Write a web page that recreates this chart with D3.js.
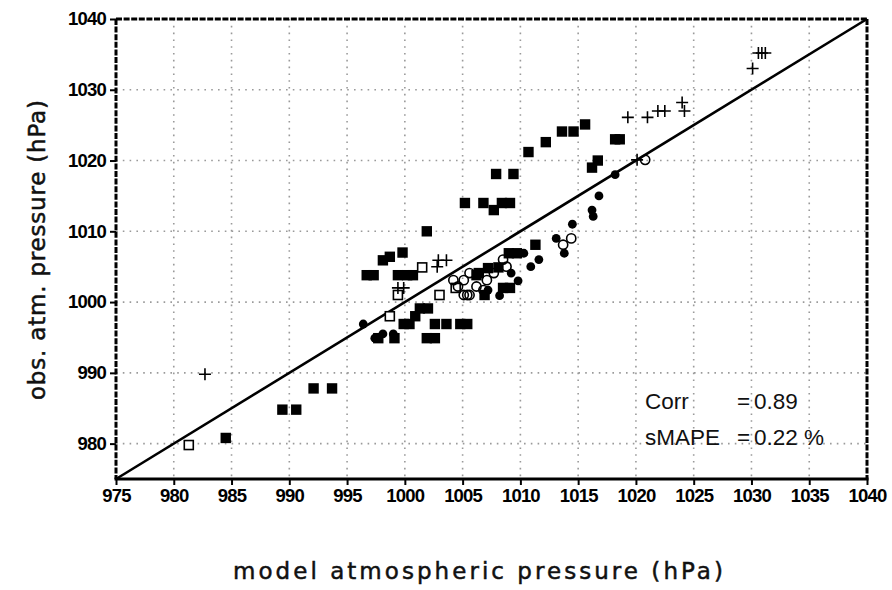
<!DOCTYPE html>
<html>
<head>
<meta charset="utf-8">
<script src="https://cdn.jsdelivr.net/npm/d3@7"></script>
<style>
  body { margin: 0; background: #fff; }
  svg { display: block; }
</style>
</head>
<body>
<div id="chart"></div>
<script>
// tick values
var xTicks = [975, 980, 985, 990, 995, 1000, 1005, 1010, 1015, 1020, 1025, 1030, 1035, 1040];
var yTicks = [980, 990, 1000, 1010, 1020, 1030, 1040];

// filled squares: model, obs
var sqModel = [984.5, 989.4, 990.6, 992.1, 993.7, 996.7, 997.3, 998.1, 998.7, 999.8, 999.4, 1000.2, 1000.7,
  1001.9, 1001.3, 1002.0, 1000.9, 999.9, 1000.4, 1002.6, 1003.6, 1004.8, 1005.4, 1001.9, 1002.6, 997.7, 999.1,
  1005.2, 1006.8, 1007.7, 1008.4, 1009.1, 1007.9, 1009.4, 1006.2, 1007.2, 1008.1, 1009.0, 1009.7, 1011.3,
  1008.5, 1009.1, 1006.9, 1006.4, 1013.6, 1014.6, 1015.6, 1018.2, 1018.6, 1016.7, 1016.2, 1012.2, 1010.7];
var sqObs = [980.8, 984.8, 984.8, 987.8, 987.8, 1003.8, 1003.8, 1005.9, 1006.4, 1007.0, 1003.8, 1003.8, 1003.8,
  1010.0, 999.1, 999.1, 998.0, 996.9, 996.9, 996.9, 996.9, 996.9, 996.9, 994.9, 994.9, 994.9, 994.9,
  1014.0, 1014.0, 1013.0, 1014.0, 1014.0, 1018.1, 1018.1, 1003.8, 1004.8, 1004.9, 1006.9, 1006.9, 1008.1,
  1002.0, 1002.0, 1001.0, 1004.1, 1024.1, 1024.1, 1025.1, 1023.0, 1023.0, 1020.0, 1019.0, 1022.6, 1021.2];

// filled circles
var ciModel = [996.4, 998.1, 999.0, 997.4, 1010.3, 1010.9, 1011.6, 1009.8, 1009.2, 1008.2, 1007.2,
  1013.1, 1013.8, 1014.5, 1016.2, 1016.3, 1016.8, 1018.2];
var ciObs = [996.9, 995.5, 995.5, 994.9, 1006.9, 1005.0, 1006.0, 1003.0, 1004.1, 1000.9, 1001.7,
  1009.0, 1006.9, 1011.0, 1013.0, 1012.1, 1015.0, 1018.0];

// open squares
var osModel = [981.3, 1001.5, 999.4, 1003.0, 998.7, 1004.4];
var osObs = [979.8, 1004.9, 1001.0, 1001.0, 998.0, 1002.0];

// open circles
var ocModel = [1004.2, 1004.6, 1005.1, 1005.6, 1005.1, 1005.4, 1005.6, 1006.2, 1006.8, 1007.1, 1007.7,
  1008.5, 1008.8, 1013.7, 1014.4, 1020.8];
var ocObs = [1003.1, 1002.2, 1003.1, 1004.1, 1001.0, 1001.0, 1001.0, 1002.2, 1001.7, 1003.1, 1004.1,
  1006.0, 1005.0, 1008.1, 1009.0, 1020.1];

// plus signs
var plModel = [982.7, 1002.9, 1003.6, 1002.8, 999.4, 999.9, 1019.3, 1021.0, 1021.9, 1022.5, 1024.0, 1024.2,
  1020.1, 1030.1, 1030.6, 1030.9, 1031.2];
var plObs = [989.8, 1005.9, 1005.9, 1005.0, 1002.0, 1002.0, 1026.1, 1026.1, 1027.0, 1027.0, 1028.2, 1027.0,
  1020.1, 1033.0, 1035.2, 1035.2, 1035.2];

var statLabels = ["Corr", "sMAPE"];
var statValues = ["0.89", "0.22 %"];

var width = 892, height = 590;
var pLeft = 116, pRight = 867, pTop = 19, pBottom = 479;

var svg = d3.select("#chart").append("svg")
  .attr("width", width)
  .attr("height", height);

var x = d3.scaleLinear().domain([975, 1040]).range([pLeft, pRight]);
var y = d3.scaleLinear().domain([975, 1040]).range([pBottom, pTop]);

function zip(a, b) { return a.map(function(v, i) { return [v, b[i]]; }); }

// grid
var grid = svg.append("g").attr("class", "grid")
  .attr("stroke", "#9a9a9a").attr("stroke-width", 1.6).attr("stroke-dasharray", "1.6,5.2");
grid.selectAll("line.v").data(xTicks.slice(1, -1)).enter().append("line")
  .attr("x1", function(d) { return x(d); }).attr("x2", function(d) { return x(d); })
  .attr("y1", pTop).attr("y2", pBottom);
grid.selectAll("line.h").data(yTicks.slice(0, -1)).enter().append("line")
  .attr("y1", function(d) { return y(d); }).attr("y2", function(d) { return y(d); })
  .attr("x1", pLeft).attr("x2", pRight);

// stats text
var stats = svg.append("g")
  .attr("font-family", "Liberation Sans, Arial, sans-serif")
  .attr("font-size", 22.5).attr("fill", "#111");
stats.selectAll("text.lab").data(statLabels).enter().append("text")
  .attr("x", 645).attr("y", function(d, i) { return 409 + i * 36; })
  .text(function(d) { return d; });
stats.selectAll("text.eq").data(statLabels).enter().append("text")
  .attr("x", 737).attr("y", function(d, i) { return 409 + i * 36; })
  .text("=");
stats.selectAll("text.val").data(statValues).enter().append("text")
  .attr("x", 754).attr("y", function(d, i) { return 409 + i * 36; })
  .text(function(d) { return d; });

// 1:1 line
svg.append("line")
  .attr("x1", x(975)).attr("y1", y(975))
  .attr("x2", x(1040)).attr("y2", y(1040))
  .attr("stroke", "#000").attr("stroke-width", 2.6);

// markers
var marks = svg.append("g").attr("class", "marks");

marks.selectAll("rect.fs").data(zip(sqModel, sqObs)).enter().append("rect")
  .attr("x", function(d) { return x(d[0]) - 5.2; })
  .attr("y", function(d) { return y(d[1]) - 5.2; })
  .attr("width", 10.4).attr("height", 10.4)
  .attr("fill", "#000");

marks.selectAll("circle.fc").data(zip(ciModel, ciObs)).enter().append("circle")
  .attr("cx", function(d) { return x(d[0]); })
  .attr("cy", function(d) { return y(d[1]); })
  .attr("r", 4.4).attr("fill", "#000");

marks.selectAll("rect.os").data(zip(osModel, osObs)).enter().append("rect")
  .attr("x", function(d) { return x(d[0]) - 4.5; })
  .attr("y", function(d) { return y(d[1]) - 4.5; })
  .attr("width", 9).attr("height", 9)
  .attr("fill", "#fff").attr("stroke", "#000").attr("stroke-width", 1.6);

marks.selectAll("circle.oc").data(zip(ocModel, ocObs)).enter().append("circle")
  .attr("cx", function(d) { return x(d[0]); })
  .attr("cy", function(d) { return y(d[1]); })
  .attr("r", 4.6).attr("fill", "none").attr("stroke", "#000").attr("stroke-width", 1.6);

marks.selectAll("path.pl").data(zip(plModel, plObs)).enter().append("path")
  .attr("d", function(d) {
    var cx = x(d[0]), cy = y(d[1]);
    return "M" + (cx - 6) + "," + cy + "H" + (cx + 6) + "M" + cx + "," + (cy - 6) + "V" + (cy + 6);
  })
  .attr("stroke", "#000").attr("stroke-width", 1.6).attr("fill", "none");

// frame
var frame = svg.append("g").attr("stroke", "#000").attr("fill", "none");
frame.append("line").attr("x1", pLeft).attr("x2", pRight).attr("y1", pTop).attr("y2", pTop)
  .attr("stroke-width", 3).attr("stroke-dasharray", "6,1.6");
frame.append("line").attr("x1", pRight).attr("x2", pRight).attr("y1", pTop).attr("y2", pBottom)
  .attr("stroke-width", 3).attr("stroke-dasharray", "6,1.6");
frame.append("line").attr("x1", pLeft).attr("x2", pLeft).attr("y1", pTop).attr("y2", pBottom)
  .attr("stroke-width", 3).attr("stroke-dasharray", "6,1.6");
frame.append("line").attr("x1", pLeft - 1.5).attr("x2", pRight + 1.5).attr("y1", pBottom).attr("y2", pBottom)
  .attr("stroke-width", 3);

// axes
var xAxis = svg.append("g")
  .attr("transform", "translate(0," + pBottom + ")")
  .call(d3.axisBottom(x).tickValues(xTicks).tickFormat(d3.format("d")).tickSize(6).tickSizeOuter(0).tickPadding(4));
var yAxis = svg.append("g")
  .attr("transform", "translate(" + pLeft + ",0)")
  .call(d3.axisLeft(y).tickValues(yTicks).tickFormat(d3.format("d")).tickSize(6).tickSizeOuter(0).tickPadding(4));

[xAxis, yAxis].forEach(function(a) {
  a.select(".domain").remove();
  a.selectAll(".tick line").attr("stroke", "#000").attr("stroke-width", 2);
  a.selectAll(".tick text")
    .attr("fill", "#000")
    .attr("font-family", "Liberation Sans, Arial, sans-serif")
    .attr("font-weight", "bold")
    .attr("font-size", 18.5)
    .attr("letter-spacing", -0.8);
});

// axis titles
svg.append("text")
  .attr("x", 233).attr("y", 579)
  .attr("font-family", "DejaVu Sans, sans-serif")
  .attr("font-size", 23)
  .attr("textLength", 490).attr("lengthAdjust", "spacing")
  .attr("fill", "#111").attr("stroke", "#111").attr("stroke-width", 0.5)
  .text("model atmospheric pressure (hPa)");

svg.append("text")
  .attr("transform", "translate(45,400) rotate(-90)")
  .attr("font-family", "DejaVu Sans, sans-serif")
  .attr("font-size", 23)
  .attr("textLength", 300).attr("lengthAdjust", "spacing")
  .attr("fill", "#111").attr("stroke", "#111").attr("stroke-width", 0.5)
  .text("obs. atm. pressure (hPa)");
</script>
</body>
</html>
